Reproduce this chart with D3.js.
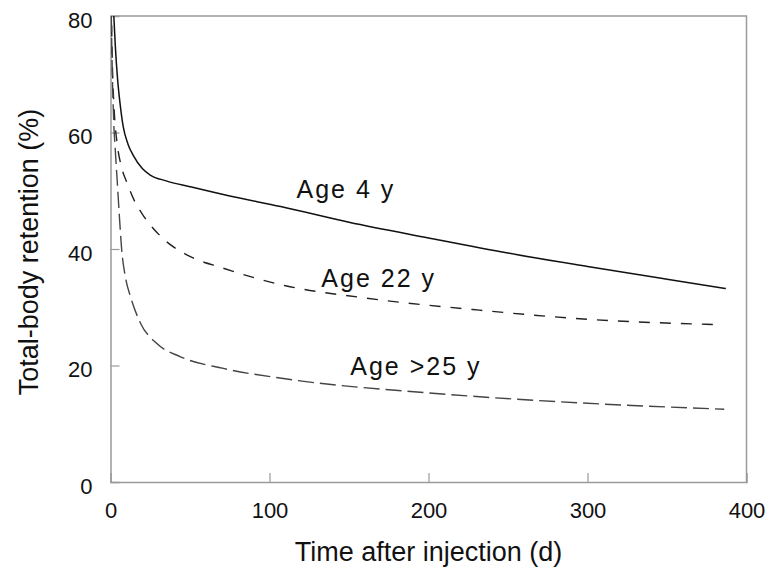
<!DOCTYPE html>
<html>
<head>
<meta charset="utf-8">
<script src="https://cdn.jsdelivr.net/npm/d3@7"></script>
<style>
  html, body { margin: 0; padding: 0; background: #fff; }
  svg { display: block; font-family: "Liberation Sans", Arial, Helvetica, sans-serif; }
</style>
</head>
<body>
<svg id="chart"></svg>
<script>
// Days after injection / retention (%)
const age4Days = [2, 3, 4.5, 6, 8, 11, 14.5, 20, 25, 35, 50, 75, 107, 150, 200, 250, 300, 350, 387];
const age4Values = [80.5, 75, 69, 65, 61, 58, 56, 53.8, 52.7, 51.7, 50.7, 49.1, 47.3, 44.6, 41.9, 39.3, 37, 34.8, 33.2];

const age22Days = [0.5, 1, 2.5, 4, 7, 10.5, 15, 20, 33, 48, 71, 110, 160, 232, 302, 385];
const age22Values = [82, 74, 63, 58.5, 54, 51.3, 48.3, 46, 41.8, 39, 36.7, 33.7, 31.6, 29.5, 27.9, 27];

const age25Days = [0.5, 1, 2, 3, 4.2, 5.5, 7, 9.5, 12.6, 18.8, 29, 44, 71, 113, 200, 308, 386];
const age25Values = [80, 72, 62, 57, 51.8, 46, 40, 35, 31.8, 27.3, 23.8, 21.5, 19.5, 17.6, 15.3, 13.4, 12.5];

const xTicks = [0, 100, 200, 300, 400];
const yTicks = [0, 20, 40, 60, 80];

const curveLabels = ["Age 4 y", "Age 22 y", "Age >25 y"];
const labelDays = [117, 132.6, 150.8];
const labelValues = [48.75, 33.5, 18.4];

const width = 766;
const height = 575;
const margin = { top: 16, right: 19.5, bottom: 93, left: 110.5 };
const innerW = width - margin.left - margin.right;
const innerH = height - margin.top - margin.bottom;

const svg = d3.select("#chart")
  .attr("width", width)
  .attr("height", height)
  .attr("viewBox", `0 0 ${width} ${height}`);

const g = svg.append("g").attr("transform", `translate(${margin.left},${margin.top})`);

const x = d3.scaleLinear().domain([0, 400]).range([0, innerW]);
const y = d3.scaleLinear().domain([0, 80]).range([innerH, 0]);

const axisColor = "#9a9a9a";

g.append("clipPath")
  .attr("id", "plot-clip")
  .append("rect")
  .attr("width", innerW)
  .attr("height", innerH);

// frame (top + right)
g.append("path")
  .attr("d", `M0,0H${innerW}V${innerH}`)
  .attr("fill", "none")
  .attr("stroke", axisColor)
  .attr("stroke-width", 1.5);

// axes, ticks point inward
g.append("g")
  .attr("transform", `translate(0,${innerH})`)
  .call(d3.axisBottom(x).tickValues(xTicks).tickSize(-9).tickPadding(20).tickFormat(d3.format("d")))
  .call(ax => {
    ax.select(".domain").attr("stroke", axisColor).attr("stroke-width", 1.5);
    ax.selectAll(".tick line").attr("stroke", axisColor).attr("stroke-width", 1.2)
      .filter(d => d === 0 || d === 400).remove();
    ax.selectAll("text").style("font-size", "22px").attr("fill", "#111");
  });

g.append("g")
  .call(d3.axisLeft(y).tickValues(yTicks).tickSize(-9).tickPadding(18).tickFormat(d3.format("d")))
  .call(ax => {
    ax.select(".domain").attr("stroke", axisColor).attr("stroke-width", 1.5);
    ax.selectAll(".tick line").attr("stroke", axisColor).attr("stroke-width", 1.2)
      .filter(d => d === 0 || d === 80).remove();
    ax.selectAll("text").style("font-size", "22px").attr("fill", "#111").attr("dy", "0.5em");
  });

// axis titles
svg.append("text")
  .attr("x", margin.left + innerW / 2)
  .attr("y", 561)
  .attr("text-anchor", "middle")
  .style("font-size", "27px")
  .attr("fill", "#111")
  .text("Time after injection (d)");

svg.append("text")
  .attr("transform", "rotate(-90)")
  .attr("x", -252)
  .attr("y", 38)
  .attr("text-anchor", "middle")
  .style("font-size", "27px")
  .attr("fill", "#111")
  .text("Total-body retention (%)");

// curves
const line = d3.line()
  .x(d => x(d[0]))
  .y(d => y(d[1]))
  .curve(d3.curveMonotoneX);

const series = [
  { days: age4Days, values: age4Values, color: "#111", dash: null, w: 1.5 },
  { days: age22Days, values: age22Values, color: "#222", dash: "11,10", w: 1.4 },
  { days: age25Days, values: age25Values, color: "#444", dash: "16,6", w: 1.4 }
];

const plot = g.append("g").attr("clip-path", "url(#plot-clip)");

series.forEach(s => {
  plot.append("path")
    .datum(s.days.map((d, i) => [d, s.values[i]]))
    .attr("d", line)
    .attr("fill", "none")
    .attr("stroke", s.color)
    .attr("stroke-width", s.w)
    .attr("stroke-dasharray", s.dash);
});

// curve labels
g.selectAll(".curve-label")
  .data(curveLabels)
  .enter()
  .append("text")
  .attr("class", "curve-label")
  .attr("x", (d, i) => x(labelDays[i]))
  .attr("y", (d, i) => y(labelValues[i]))
  .style("font-size", "25px")
  .style("letter-spacing", "2px")
  .attr("fill", "#111")
  .text(d => d);
</script>
</body>
</html>
